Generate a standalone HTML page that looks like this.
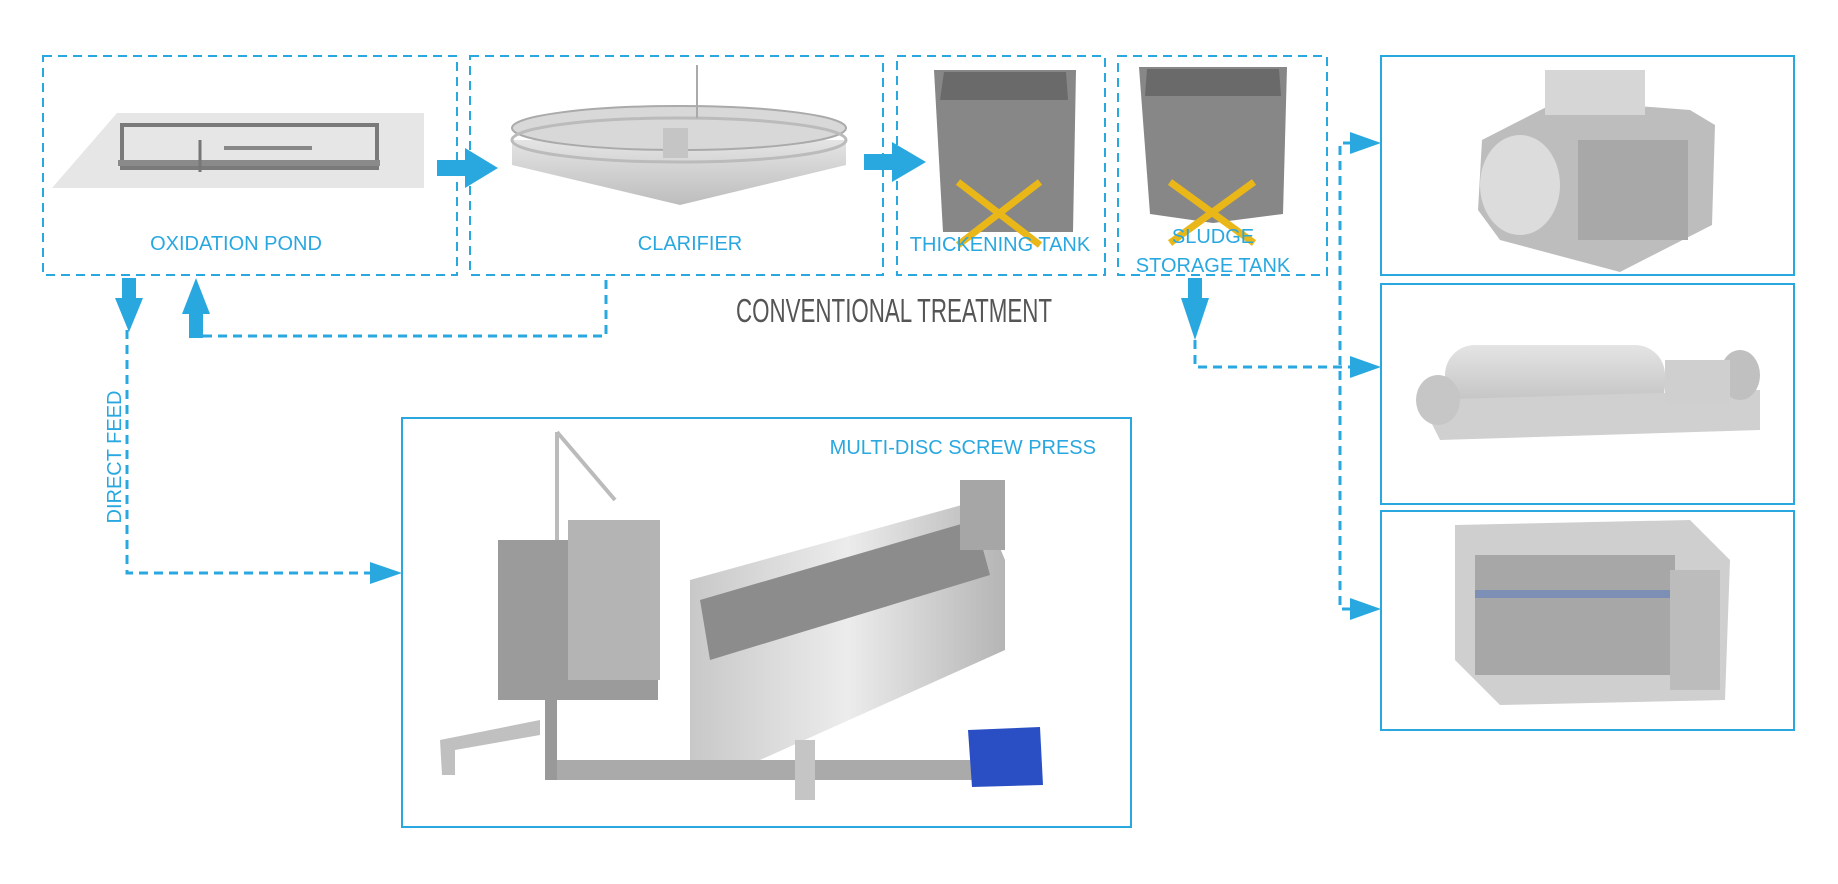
<!DOCTYPE html>
<html><head><meta charset="utf-8"><style>
html,body{margin:0;padding:0;background:#fff}
svg{display:block}
.lbl{font-family:"Liberation Sans Narrow","Liberation Sans",sans-serif;fill:#29a8e0;font-size:20px}
</style></head><body>
<svg width="1838" height="884" viewBox="0 0 1838 884" xmlns="http://www.w3.org/2000/svg">
<defs>
<linearGradient id="g1" x1="0" y1="0" x2="0" y2="1"><stop offset="0" stop-color="#e4e4e4"/><stop offset="1" stop-color="#bdbdbd"/></linearGradient>
<linearGradient id="g2" x1="0" y1="0" x2="1" y2="0"><stop offset="0" stop-color="#c8c8c8"/><stop offset=".5" stop-color="#ececec"/><stop offset="1" stop-color="#b5b5b5"/></linearGradient>
</defs>
<g fill="none" stroke="#29a8e0" stroke-width="2" stroke-dasharray="9,6">
<rect x="43" y="56" width="414" height="219"/>
<rect x="470" y="56" width="413" height="219"/>
<rect x="897" y="56" width="208" height="219"/>
<rect x="1118" y="56" width="209" height="219"/>
</g>
<g fill="none" stroke="#29a8e0" stroke-width="2">
<rect x="1381" y="56" width="413" height="219"/>
<rect x="1381" y="284" width="413" height="220"/>
<rect x="1381" y="511" width="413" height="219"/>
<rect x="402" y="418" width="729" height="409"/>
</g>
<!-- oxidation pond -->
<polygon points="52,188 117,113 404,113 424,113 424,188" fill="#e6e6e6"/>
<rect x="122" y="125" width="255" height="43" fill="none" stroke="#7a7a7a" stroke-width="4"/>
<rect x="118" y="160" width="262" height="6" fill="#8a8a8a"/>
<line x1="200" y1="140" x2="200" y2="172" stroke="#777" stroke-width="3"/>
<rect x="224" y="146" width="88" height="4" fill="#888"/>
<!-- clarifier -->
<polygon points="512,140 846,140 846,165 680,205 512,165" fill="url(#g1)"/>
<ellipse cx="679" cy="128" rx="167" ry="22" fill="#d8d8d8" stroke="#aaa" stroke-width="2"/>
<ellipse cx="679" cy="140" rx="167" ry="22" fill="none" stroke="#bbb" stroke-width="3"/>
<rect x="663" y="128" width="25" height="30" fill="#c5c5c5"/>
<line x1="697" y1="65" x2="697" y2="118" stroke="#aaa" stroke-width="2"/>
<!-- tanks -->
<polygon points="934,70 1076,70 1073,232 943,232" fill="#878787"/>
<polygon points="944,72 1066,72 1068,100 940,100" fill="#6a6a6a"/>
<polygon points="1139,67 1287,67 1283,214 1213,223 1150,214" fill="#878787"/>
<polygon points="1147,69 1279,69 1281,96 1145,96" fill="#6a6a6a"/>
<g stroke="#eab718" stroke-width="7">
<line x1="958" y1="182" x2="1040" y2="245"/><line x1="1040" y1="182" x2="958" y2="245"/>
<line x1="1170" y1="182" x2="1254" y2="243"/><line x1="1254" y1="182" x2="1170" y2="243"/>
</g>
<!-- labels -->
<text class="lbl" x="236" y="250" text-anchor="middle">OXIDATION POND</text>
<text class="lbl" x="690" y="250" text-anchor="middle">CLARIFIER</text>
<text class="lbl" x="1000" y="251" text-anchor="middle">THICKENING TANK</text>
<text class="lbl" x="1213" y="243" text-anchor="middle">SLUDGE</text>
<text class="lbl" x="1213" y="272" text-anchor="middle">STORAGE TANK</text>
<text x="894" y="322" text-anchor="middle" font-family="Liberation Sans Narrow,Liberation Sans,sans-serif" font-size="33" fill="#555" font-weight="normal" textLength="316" lengthAdjust="spacingAndGlyphs">CONVENTIONAL TREATMENT</text>
<text class="lbl" x="1096" y="454" text-anchor="end">MULTI-DISC SCREW PRESS</text>
<text class="lbl" transform="translate(121,457) rotate(-90)" text-anchor="middle">DIRECT FEED</text>
<!-- arrows -->
<g fill="#29a8e0">
<rect x="437" y="160" width="30" height="16"/><polygon points="465,148 498,168 465,188"/>
<rect x="864" y="154" width="30" height="16"/><polygon points="892,142 926,162 892,182"/>
<rect x="122" y="278" width="14" height="22"/><polygon points="115,298 143,298 129,332"/>
<rect x="189" y="314" width="14" height="24"/><polygon points="182,314 210,314 196,278"/>
<rect x="1188" y="278" width="14" height="22"/><polygon points="1181,298 1209,298 1195,340"/>
<polygon points="370,562 402,573 370,584"/>
<polygon points="1350,132 1381,143 1350,154"/>
<polygon points="1350,356 1381,367 1350,378"/>
<polygon points="1350,598 1381,609 1350,620"/>
</g>
<g fill="none" stroke="#29a8e0" stroke-width="3" stroke-dasharray="9,6">
<polyline points="203,336 606,336 606,278"/>
<polyline points="127,330 127,573 372,573"/>
<polyline points="1195,340 1195,367 1352,367"/>
<polyline points="1352,143 1340,143 1340,609 1352,609"/>
</g>
<!-- belt press -->
<polygon points="1482,140 1560,100 1690,110 1715,125 1712,225 1620,272 1500,240 1478,210" fill="#bdbdbd"/>
<rect x="1545" y="70" width="100" height="45" fill="#d6d6d6"/>
<ellipse cx="1520" cy="185" rx="40" ry="50" fill="#dcdcdc"/>
<rect x="1578" y="140" width="110" height="100" fill="#a8a8a8"/>
<!-- centrifuge -->
<rect x="1445" y="345" width="220" height="70" rx="30" fill="url(#g1)"/>
<polygon points="1420,400 1760,390 1760,430 1440,440" fill="#d0d0d0"/>
<ellipse cx="1438" cy="400" rx="22" ry="25" fill="#c6c6c6"/>
<ellipse cx="1740" cy="375" rx="20" ry="25" fill="#c0c0c0"/>
<rect x="1665" y="360" width="65" height="45" fill="#cfcfcf"/>
<!-- filter press -->
<polygon points="1455,525 1690,520 1730,560 1725,700 1500,705 1455,660" fill="#cfcfcf"/>
<rect x="1475" y="555" width="200" height="120" fill="#a7a7a7"/>
<rect x="1475" y="590" width="200" height="8" fill="#7d8fb5"/>
<rect x="1670" y="570" width="50" height="120" fill="#bcbcbc"/>
<!-- screw press -->
<rect x="498" y="540" width="160" height="160" fill="#9b9b9b"/>
<rect x="568" y="520" width="92" height="160" fill="#b4b4b4"/>
<polygon points="690,580 980,500 1005,560 1005,650 760,760 690,760" fill="url(#g2)"/>
<polygon points="700,600 975,520 990,575 710,660" fill="#8c8c8c"/>
<rect x="545" y="760" width="460" height="20" fill="#aaa"/>
<rect x="545" y="700" width="12" height="80" fill="#999"/>
<rect x="960" y="480" width="45" height="70" fill="#a6a6a6"/>
<polygon points="440,740 540,720 540,735 455,750 455,775 442,775" fill="#c0c0c0"/>
<rect x="795" y="740" width="20" height="60" fill="#c5c5c5"/>
<line x1="557" y1="432" x2="557" y2="540" stroke="#bbb" stroke-width="4"/>
<line x1="557" y1="432" x2="615" y2="500" stroke="#bbb" stroke-width="4"/>
<polygon points="968,730 1040,727 1043,785 972,787" fill="#2a4fc4"/>
</svg>
</body></html>
